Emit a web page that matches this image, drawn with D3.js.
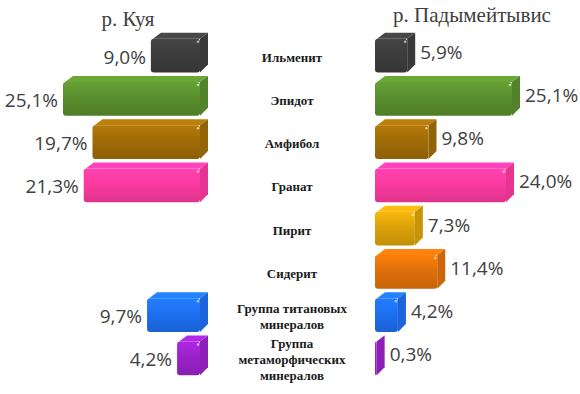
<!DOCTYPE html>
<html>
<head>
<meta charset="utf-8">
<script src="https://cdn.jsdelivr.net/npm/d3@7"></script>
<style>
  body { margin: 0; background: #fff; }
</style>
</head>
<body>
<div id="chart"></div>
<script>
// Minerals, values in % for the two rivers
const minerals = ["Ильменит", "Эпидот", "Амфибол", "Гранат", "Пирит", "Сидерит",
    "Группа титановых|минералов", "Группа|метаморфических|минералов"];
const kuya = [9.0, 25.1, 19.7, 21.3, null, null, 9.7, 4.2];
const padym = [5.9, 25.1, 9.8, 24.0, 7.3, 11.4, 4.2, 0.3];
const titles = ["р. Куя", "р. Падымейтывис"];
const palette = ["#3d3d3d", "#5a8e2e", "#a06c08", "#fb3a9e", "#dca20a", "#e0700a", "#1e6ff0", "#9a22c8"];

const W = 580, H = 394;
const depth = { dx: 8, dy: -6 };

const svg = d3.select("#chart").append("svg")
    .attr("width", W)
    .attr("height", H);

const color = d3.scaleOrdinal(minerals, palette);

const y = d3.scaleBand()
    .domain(minerals)
    .range([34, 380])
    .paddingInner(0.22)
    .paddingOuter(0.11);

// left panel grows to the left, right panel grows to the right
const xL = d3.scaleLinear().domain([0, 25.1]).range([200, 63]);
const xR = d3.scaleLinear().domain([0, 25.1]).range([375, 512]);

// gradients for the front faces
const defs = svg.append("defs");
minerals.forEach((m, i) => {
    const c = d3.color(color(m));
    const g = defs.append("linearGradient")
        .attr("id", "grad" + i)
        .attr("x1", 0).attr("y1", 0).attr("x2", 0).attr("y2", 1);
    g.append("stop").attr("offset", "0%").attr("stop-color", c.brighter(0.35));
    g.append("stop").attr("offset", "45%").attr("stop-color", c);
    g.append("stop").attr("offset", "100%").attr("stop-color", c.darker(0.35));
});

function bar3d(g, x0, x1, y0, y1, i, m) {
    const c = d3.color(color(m));
    const { dx, dy } = depth;
    // top face
    g.append("path")
        .attr("d", `M${x0 + 2},${y0} L${x1},${y0} L${x1 + dx},${y0 + dy} L${x0 + dx + 2},${y0 + dy} Z`)
        .attr("fill", c.brighter(0.45));
    // right face
    g.append("path")
        .attr("d", `M${x1},${y0} L${x1 + dx},${y0 + dy} L${x1 + dx},${y1 + dy - 2} L${x1},${y1} Z`)
        .attr("fill", c.darker(0.25));
    // front face
    g.append("rect")
        .attr("x", x0).attr("y", y0)
        .attr("width", Math.max(x1 - x0, 1))
        .attr("height", y1 - y0)
        .attr("rx", 3)
        .attr("fill", `url(#grad${i})`);
    // small highlight near the top right corner
    if (x1 - x0 > 6) {
        g.append("circle")
            .attr("cx", x1 - 2).attr("cy", y0 + 3).attr("r", 1.3)
            .attr("fill", "#fff").attr("opacity", 0.6);
    }
}

const valFmt = v => d3.format(".1f")(v).replace(".", ",") + "%";
const valueFont = "'Open Sans', sans-serif";

// left bars (р. Куя)
const gl = svg.append("g");
minerals.forEach((m, i) => {
    const v = kuya[i];
    if (v == null) return;
    const y0 = y(m), y1 = y(m) + y.bandwidth();
    bar3d(gl, xL(v), xL(0), y0, y1, i, m);
    gl.append("text")
        .attr("x", xL(v) - 5)
        .attr("y", y0 + y.bandwidth() / 2 + 3)
        .attr("text-anchor", "end")
        .attr("dominant-baseline", "middle")
        .style("font-family", valueFont)
        .style("font-size", "19px")
        .attr("fill", "#404040")
        .text(valFmt(v));
});

// right bars (р. Падымейтывис)
const gr = svg.append("g");
minerals.forEach((m, i) => {
    const v = padym[i];
    if (v == null) return;
    const y0 = y(m), y1 = y(m) + y.bandwidth();
    bar3d(gr, xR(0), xR(v), y0, y1, i, m);
    gr.append("text")
        .attr("x", xR(v) + depth.dx + 5)
        .attr("y", y0 + y.bandwidth() / 2 - 2)
        .attr("dominant-baseline", "middle")
        .style("font-family", valueFont)
        .style("font-size", "19px")
        .attr("fill", "#404040")
        .text(valFmt(v));
});

// category labels in the middle
const gc = svg.append("g");
minerals.forEach(m => {
    const lines = m.split("|");
    const cy = y(m) + y.bandwidth() / 2 + 3;
    const lh = 16;
    lines.forEach((line, k) => {
        gc.append("text")
            .attr("x", 292)
            .attr("y", cy + (k - (lines.length - 1) / 2) * lh)
            .attr("text-anchor", "middle")
            .attr("dominant-baseline", "middle")
            .style("font-family", "'Liberation Serif', serif")
            .style("font-weight", "bold")
            .style("font-size", "13px")
            .attr("fill", "#1a1a1a")
            .text(line);
    });
});

// titles
svg.append("text")
    .attr("x", 128).attr("y", 26)
    .attr("text-anchor", "middle")
    .style("font-family", "'Liberation Serif', serif")
    .style("font-size", "21px")
    .attr("fill", "#404040")
    .text(titles[0]);

svg.append("text")
    .attr("x", 472).attr("y", 22)
    .attr("text-anchor", "middle")
    .style("font-family", "'Liberation Serif', serif")
    .style("font-size", "21px")
    .attr("fill", "#404040")
    .text(titles[1]);
</script>
</body>
</html>
